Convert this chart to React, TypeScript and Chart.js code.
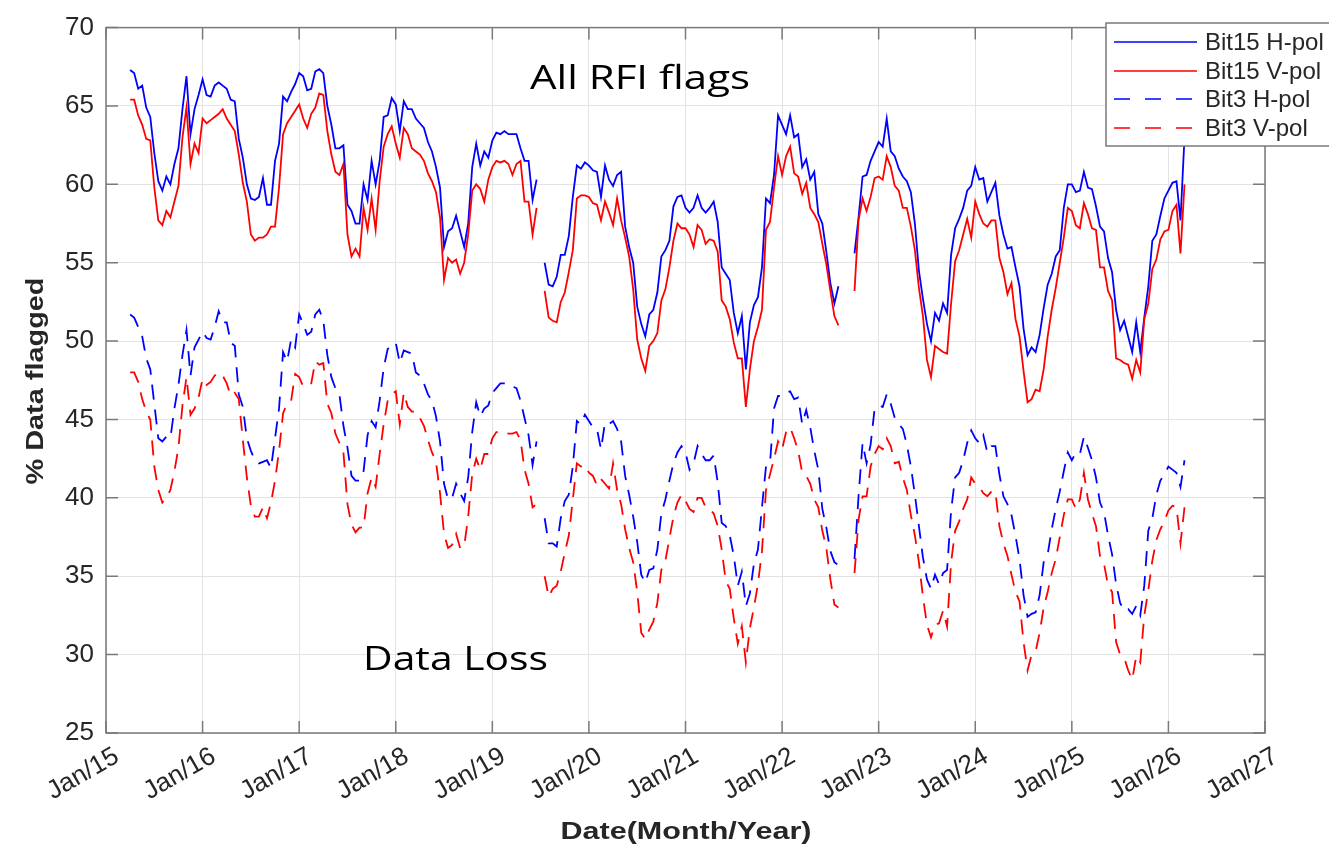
import { useEffect, useRef } from 'react';
import { Chart, registerables } from 'chart.js';

Chart.register(...registerables);

const W = 1329;
const H = 850;

// x axis: decimal years, one sample every half month
const START_YEAR = 2015.25;
const STEP_YEAR = 1 / 24;

const xTickYears = [2015, 2016, 2017, 2018, 2019, 2020, 2021, 2022, 2023, 2024, 2025, 2026, 2027];
const xTickLabels = ['Jan/15', 'Jan/16', 'Jan/17', 'Jan/18', 'Jan/19', 'Jan/20', 'Jan/21', 'Jan/22', 'Jan/23', 'Jan/24', 'Jan/25', 'Jan/26', 'Jan/27'];
const yTicks = [25, 30, 35, 40, 45, 50, 55, 60, 65, 70];

const seriesNames = ['Bit15 H-pol', 'Bit15 V-pol', 'Bit3 H-pol', 'Bit3 V-pol'];

// ---- Bit15 H-pol (solid blue) ----
const bit15H_seg1 = [
  67.3, 67.1, 66.1, 66.3, 64.9, 64.3, 62.0, 60.2, 59.6, 60.5,
  60.0, 61.3, 62.3, 64.8, 66.9, 63.2, 64.8, 65.7, 66.7, 65.7,
  65.6, 66.3, 66.5, 66.3, 66.1, 65.4, 65.3, 62.9, 61.7, 60.0,
  59.1, 59.0, 59.2, 60.4, 58.7, 58.7, 61.5, 62.6, 65.6, 65.3,
  65.9, 66.4, 67.1, 66.9, 66.0, 66.1, 67.2, 67.35, 67.1, 65.0,
  63.8, 62.3, 62.3, 62.5, 58.7, 58.3, 57.5, 57.5, 60.0, 59.0,
  61.5, 60.0, 61.5, 64.3, 64.4, 65.5, 65.1, 63.4, 65.3, 64.8,
  64.8, 64.2, 63.9, 63.6, 62.7, 62.1, 61.1, 59.8, 56.0, 57.0,
  57.2, 58.0, 57.0, 56.0, 57.5, 61.1, 62.6, 61.2, 62.1, 61.7,
  62.8, 63.3, 63.2, 63.4, 63.2, 63.2, 63.2, 62.3, 61.5, 61.5,
  59.0, 60.3,
];
const bit15H_seg2 = [
  55.0, 53.6, 53.5, 54.1, 55.5, 55.5, 56.7, 59.2, 61.2, 61.0,
  61.4, 61.2, 60.9, 60.8, 59.2, 61.2, 60.3, 59.9, 60.6, 60.8,
  57.3, 56.0, 55.0, 52.2, 51.1, 50.3, 51.7, 52.0, 53.1, 55.4,
  55.8, 56.4, 58.6, 59.2, 59.3, 58.5, 58.2, 58.5, 59.3, 58.5,
  58.2, 58.5, 58.9, 57.6, 54.7, 54.3, 53.9, 51.8, 50.5, 51.6,
  48.2, 51.2, 52.3, 52.8, 54.7, 59.1, 58.8, 60.6, 64.4, 63.8,
  63.2, 64.4, 63.0, 63.2, 61.1, 61.6, 60.3, 60.8, 58.1, 57.5,
  55.7, 53.7, 52.4, 53.5,
];
const bit15H_seg3 = [
  55.6, 57.9, 60.5, 60.6, 61.5, 62.1, 62.7, 62.4, 64.2, 62.1,
  61.8, 61.0, 60.5, 60.2, 59.5, 57.5, 54.5, 52.7, 51.1, 50.0,
  51.8, 51.3, 52.4, 51.8, 55.5, 57.2, 57.8, 58.5, 59.6, 59.9,
  61.1, 60.3, 60.4, 58.9, 59.5, 60.1, 58.0, 56.8, 55.9, 56.0,
  54.7, 53.5, 50.8, 49.1, 49.6, 49.3, 50.4, 52.1, 53.6, 54.3,
  55.4, 55.8, 58.5, 60.0, 60.0, 59.5, 59.6, 60.8, 59.8, 59.7,
  58.6, 57.3, 57.0, 55.3, 54.4, 52.0, 50.7, 51.3, 50.3, 49.3,
  51.2, 49.3, 51.5, 53.5, 56.4, 56.8, 58.0, 59.1, 59.6, 60.1,
  60.2, 57.7, 63.0,
];

// ---- Bit15 V-pol (solid red) ----
const bit15V_seg1 = [
  65.4, 65.4, 64.4, 63.8, 62.9, 62.8, 59.8, 57.7, 57.4, 58.3,
  57.9, 58.9, 59.9, 63.0, 64.9, 61.3, 62.6, 62.0, 64.2, 63.9,
  64.1, 64.3, 64.5, 64.8, 64.2, 63.8, 63.4, 61.9, 60.1, 58.9,
  56.8, 56.4, 56.6, 56.6, 56.8, 57.3, 57.3, 59.8, 63.2, 63.9,
  64.3, 64.7, 65.1, 64.2, 63.6, 64.5, 64.9, 65.8, 65.7, 63.4,
  61.9, 60.8, 60.6, 61.3, 56.8, 55.4, 55.9, 55.4, 58.5, 57.1,
  59.1, 57.1, 60.2, 62.4, 63.2, 63.7, 62.6, 61.7, 63.6, 63.2,
  62.3, 62.1, 61.9, 61.5, 60.7, 60.2, 59.5, 57.9, 53.9, 55.3,
  55.0, 55.2, 54.3, 55.0, 56.8, 59.6, 60.0, 59.7, 58.9, 60.3,
  61.1, 61.5, 61.4, 61.5, 61.3, 60.6, 61.3, 61.5, 58.9, 58.9,
  56.8, 58.5,
];
const bit15V_seg2 = [
  53.2, 51.5, 51.3, 51.2, 52.5, 53.1, 54.4, 55.8, 59.1, 59.3,
  59.3, 59.2, 58.8, 58.7, 57.7, 58.9, 58.2, 57.4, 59.1, 57.7,
  56.6, 55.4, 53.3, 50.1, 48.9, 48.1, 49.7, 50.0, 50.5, 52.6,
  53.3, 54.7, 56.4, 57.5, 57.2, 57.2, 56.8, 56.0, 57.4, 57.1,
  56.2, 56.5, 56.4, 55.7, 52.6, 52.2, 51.4, 49.9, 48.9, 48.9,
  45.8, 48.2, 50.0, 50.9, 52.0, 57.1, 57.6, 59.8, 61.8, 60.6,
  61.8, 62.4, 60.7, 60.5, 59.4, 60.1, 58.5, 58.1, 57.6, 56.2,
  54.9, 53.2, 51.6, 51.0,
];
const bit15V_seg3 = [
  53.2, 57.7, 59.1, 58.3, 59.2, 60.4, 60.5, 60.3, 61.8, 61.1,
  59.9, 59.6, 58.5, 58.5, 57.3, 55.8, 53.4, 51.6, 48.8, 47.7,
  49.7, 49.5, 49.3, 49.2, 52.4, 55.1, 55.8, 56.8, 57.8, 56.6,
  58.9, 58.1, 57.5, 57.3, 57.7, 57.7, 55.3, 54.4, 53.0, 53.7,
  51.4, 50.3, 48.1, 46.1, 46.3, 46.9, 46.8, 48.2, 50.3, 52.0,
  53.4, 55.0, 56.6, 58.5, 58.3, 57.4, 57.2, 58.8, 58.1, 57.2,
  57.1, 54.7, 54.7, 53.2, 52.6, 48.9, 48.8, 48.6, 48.5, 47.6,
  48.8, 48.0, 51.4, 52.4, 54.6, 55.2, 56.5, 57.0, 57.1, 58.3,
  58.7, 55.6, 60.0,
];

// ---- Bit3 H-pol (dashed blue) ----
const bit3H_seg1 = [
  51.7, 51.5, 50.9, 50.3, 48.9, 48.2, 46.0, 43.8, 43.6, 43.9,
  43.8, 45.7, 47.2, 49.1, 50.7, 47.8, 49.6, 50.1, 50.6, 50.2,
  50.1, 50.9, 51.9, 51.2, 51.2, 49.9, 49.7, 46.6, 45.8, 43.8,
  43.0, 42.4, 42.2, 42.3, 42.4, 41.9, 43.8, 45.7, 49.3, 48.7,
  50.1, 49.6, 51.7, 51.1, 50.4, 50.6, 51.7, 52.0, 51.3, 49.1,
  47.7, 47.0, 46.6, 44.6, 43.2, 41.4, 41.1, 41.1, 41.7, 44.0,
  44.9, 44.5, 46.2, 48.3, 49.5, 49.7, 49.9, 48.6, 49.4, 49.3,
  49.2, 48.0, 47.8, 47.3, 46.6, 46.2, 45.2, 43.6, 40.9, 39.9,
  40.0, 40.9, 40.3, 39.8, 41.3, 44.2, 46.1, 45.2, 45.7, 45.9,
  46.7, 47.0, 47.3, 47.3, 47.3, 47.1, 47.0, 46.2, 45.1, 44.0,
  42.1, 43.6,
];
const bit3H_seg2 = [
  38.7, 37.1, 37.1, 36.9, 38.7, 39.8, 40.2, 42.0, 44.9, 44.7,
  45.3, 44.9, 44.5, 44.4, 43.1, 44.8, 44.7, 44.9, 44.4, 43.6,
  41.4, 40.2, 38.8, 37.2, 35.1, 34.6, 35.4, 35.5, 36.7, 39.0,
  39.9, 41.1, 42.2, 42.9, 43.3, 42.9, 41.8, 42.2, 43.3, 42.8,
  42.4, 42.4, 42.7, 41.0, 38.4, 38.2, 37.6, 36.3, 34.4, 35.3,
  33.1, 33.9, 35.8, 36.7, 39.4, 42.0, 42.2, 45.7, 46.5, 46.5,
  46.7, 46.8, 46.3, 46.4, 44.7, 45.6, 44.5, 43.0, 41.8, 39.3,
  38.1, 36.6, 35.9, 35.7,
];
const bit3H_seg3 = [
  36.1, 40.1, 43.5, 42.2, 43.4, 45.7, 45.9, 45.8, 46.6, 46.0,
  45.1, 44.7, 44.4, 43.4, 42.0, 40.2, 38.2, 36.2, 34.8, 34.2,
  35.1, 34.5, 35.2, 35.4, 39.2, 41.3, 41.6, 42.4, 43.5, 44.3,
  43.8, 43.5, 44.0, 42.9, 43.3, 43.3, 41.5, 40.1, 39.6, 38.9,
  37.6, 36.1, 33.8, 32.4, 32.6, 32.7, 33.8, 35.9, 36.4, 38.0,
  39.3, 40.4, 41.7, 42.9, 42.4, 42.9, 42.8, 43.9, 43.2, 42.4,
  41.3, 39.7, 39.1, 37.6, 36.4, 34.5, 33.3, 32.8, 32.9, 32.6,
  33.1, 32.5, 34.4, 37.9, 38.7, 40.2, 41.1, 41.5, 42.0, 41.8,
  41.6, 40.7, 42.4,
];

// ---- Bit3 V-pol (dashed red) ----
const bit3V_seg1 = [
  48.0, 48.0, 47.4, 46.3, 45.5, 45.0, 42.0, 40.5, 39.7, 40.0,
  40.5, 41.7, 43.2, 45.9, 47.7, 45.3, 45.7, 46.4, 47.6, 47.2,
  47.4, 47.8, 48.0, 47.8, 47.3, 46.5, 46.7, 46.3, 43.7, 41.3,
  39.5, 38.8, 38.8, 39.4, 38.7, 39.7, 41.1, 43.0, 45.4, 46.0,
  46.2, 47.9, 47.7, 47.1, 47.2, 47.3, 48.7, 48.5, 48.6, 46.0,
  45.4, 44.1, 43.5, 42.9, 39.6, 38.3, 37.8, 38.1, 38.1, 40.3,
  41.3, 40.7, 42.8, 44.7, 46.2, 46.6, 46.8, 44.7, 46.7, 45.8,
  45.5, 45.5, 45.1, 44.6, 43.7, 42.9, 42.3, 40.3, 37.7, 36.8,
  37.0, 37.7, 36.8, 36.9, 38.8, 41.5, 42.5, 41.8, 42.8, 42.8,
  43.8, 44.2, 44.2, 44.2, 44.1, 44.1, 44.2, 43.7, 41.8, 40.9,
  39.4, 39.6,
];
const bit3V_seg2 = [
  35.0, 33.7, 34.2, 34.4, 35.3, 36.5, 37.6, 39.9, 42.2, 42.0,
  42.1, 41.6, 41.4, 40.8, 41.2, 40.9, 40.6, 42.2, 40.5, 39.6,
  38.0, 36.8, 35.9, 34.0, 31.4, 31.0, 31.6, 32.1, 33.3, 35.4,
  36.0, 37.4, 38.8, 39.7, 40.2, 39.8, 39.3, 39.1, 40.0, 40.0,
  39.4, 39.3, 39.0, 38.2, 36.7, 34.7, 34.2, 32.3, 30.7, 31.8,
  29.5, 31.7, 33.0, 34.5, 36.6, 40.5, 41.5, 42.5, 43.6, 43.1,
  44.2, 44.5, 43.8, 43.0, 41.6, 41.4, 40.9, 39.9, 39.4, 37.9,
  36.8, 34.8, 33.2, 33.0,
];
const bit3V_seg3 = [
  35.2, 38.6, 40.1, 40.1, 42.0, 42.8, 43.3, 43.1, 43.8, 43.3,
  42.2, 42.3, 41.3, 40.5, 38.9, 37.6, 35.9, 33.7, 31.9, 31.1,
  31.9, 32.0, 32.8, 31.8, 35.9, 37.9, 38.5, 39.3, 39.9, 41.3,
  40.9, 40.7, 40.3, 40.1, 40.4, 40.4, 38.2, 37.1, 36.3, 35.1,
  34.0, 33.4, 30.8, 29.0, 30.0, 30.2, 31.4, 33.0, 34.0, 35.2,
  36.1, 37.5, 38.9, 39.9, 39.9, 39.3, 39.9, 41.6, 39.9, 39.0,
  38.2, 36.3, 35.8, 34.4, 34.0, 30.8, 30.0, 29.8, 29.0, 28.4,
  29.9, 29.5, 32.5, 34.1, 36.0, 37.3, 38.0, 38.5, 39.2, 39.5,
  39.4, 37.1, 39.4,
];

// data gaps (missing samples) between the three segments
const GAP1 = 1;
const GAP2 = 3;

function joinSegments(a: number[], b: number[], c: number[]): (number | null)[] {
  return [...a, ...Array(GAP1).fill(null), ...b, ...Array(GAP2).fill(null), ...c];
}

const bit15H = joinSegments(bit15H_seg1, bit15H_seg2, bit15H_seg3);
const bit15V = joinSegments(bit15V_seg1, bit15V_seg2, bit15V_seg3);
const bit3H = joinSegments(bit3H_seg1, bit3H_seg2, bit3H_seg3);
const bit3V = joinSegments(bit3V_seg1, bit3V_seg2, bit3V_seg3);

const dates = bit15H.map((_, i) => START_YEAR + i * STEP_YEAR);

const BLUE = '#0000FF';
const RED = '#FF0000';
const TXT = '#262626';
const DASH = [15, 10];

function toPoints(vals: (number | null)[]) {
  return vals.map((v, i) => ({ x: dates[i], y: v }));
}

function drawStretchedText(
  ctx: CanvasRenderingContext2D,
  text: string,
  font: string,
  x: number,
  y: number,
  targetWidth: number,
  align: 'left' | 'center',
  rotate = 0,
  color = '#000'
) {
  ctx.save();
  ctx.font = font;
  const w = ctx.measureText(text).width;
  ctx.translate(x, y);
  if (rotate) ctx.rotate(rotate);
  ctx.scale(targetWidth / w, 1);
  ctx.fillStyle = color;
  ctx.textAlign = align;
  ctx.textBaseline = 'alphabetic';
  ctx.fillText(text, 0, 0);
  ctx.restore();
}

const framePlugin = {
  id: 'frame',
  afterDatasetsDraw(chart: any) {
    const { ctx, chartArea } = chart;
    const { left, right, top, bottom } = chartArea;
    const xs = chart.scales.x;
    const ys = chart.scales.y;
    ctx.save();
    ctx.strokeStyle = '#7a7a7a';
    ctx.lineWidth = 1.5;
    ctx.strokeRect(left, top, right - left, bottom - top);
    ctx.beginPath();
    const TL = 12;
    xTickYears.forEach((v) => {
      const px = xs.getPixelForValue(v);
      ctx.moveTo(px, bottom);
      ctx.lineTo(px, bottom - TL);
      ctx.moveTo(px, top);
      ctx.lineTo(px, top + TL);
    });
    yTicks.forEach((v) => {
      const py = ys.getPixelForValue(v);
      ctx.moveTo(left, py);
      ctx.lineTo(left + TL, py);
      ctx.moveTo(right, py);
      ctx.lineTo(right - TL, py);
    });
    ctx.stroke();
    ctx.restore();
  },
};

const annotationPlugin = {
  id: 'annotations',
  afterDraw(chart: any) {
    const ctx = chart.ctx as CanvasRenderingContext2D;
    // in-plot annotations
    drawStretchedText(ctx, 'All RFI flags', '33px "Open Sans"', 530, 89, 220, 'left');
    drawStretchedText(ctx, 'Data Loss', '33px "Open Sans"', 363, 670, 185, 'left');
    // axis titles
    drawStretchedText(ctx, 'Date(Month/Year)', 'bold 23px "Liberation Sans"', 686, 839, 251, 'center', 0, TXT);
    drawStretchedText(ctx, '% Data flagged', 'bold 23px "Liberation Sans"', 43, 381, 207, 'center', -Math.PI / 2, TXT);

    // legend
    const lx = 1106;
    const ly = 23;
    ctx.save();
    ctx.fillStyle = '#ffffff';
    ctx.fillRect(lx, ly, W - lx + 10, 123);
    ctx.strokeStyle = '#7a7a7a';
    ctx.lineWidth = 1.5;
    ctx.strokeRect(lx, ly, W - lx + 10, 123);
    const rows = [42, 71, 99, 128];
    const colors = [BLUE, RED, BLUE, RED];
    const dashed = [false, false, true, true];
    rows.forEach((ry, i) => {
      ctx.beginPath();
      ctx.strokeStyle = colors[i];
      ctx.lineWidth = 1.5;
      ctx.setLineDash(dashed[i] ? [16, 15] : []);
      ctx.moveTo(1114, ry);
      ctx.lineTo(1197, ry);
      ctx.stroke();
      ctx.setLineDash([]);
      ctx.fillStyle = TXT;
      ctx.font = '24px "Liberation Sans"';
      ctx.textAlign = 'left';
      ctx.textBaseline = 'middle';
      ctx.fillText(seriesNames[i], 1205, ry + 1);
    });
    ctx.restore();
  },
};

export default function App() {
  const ref = useRef<HTMLCanvasElement>(null);

  useEffect(() => {
    document.body.style.margin = '0';
    const canvas = ref.current;
    if (!canvas) return;
    const mk = (label: string, vals: (number | null)[], color: string, dash: number[]) => ({
      label,
      data: toPoints(vals),
      borderColor: color,
      backgroundColor: color,
      borderWidth: 1.8,
      borderDash: dash,
      pointRadius: 0,
      pointHoverRadius: 0,
      tension: 0,
      spanGaps: false,
      fill: false,
    });
    const chart = new Chart(canvas, {
      type: 'line',
      data: {
        datasets: [
          mk(seriesNames[3], bit3V, RED, DASH),
          mk(seriesNames[2], bit3H, BLUE, DASH),
          mk(seriesNames[1], bit15V, RED, []),
          mk(seriesNames[0], bit15H, BLUE, []),
        ],
      },
      options: {
        animation: false,
        responsive: false,
        devicePixelRatio: 1,
        layout: { padding: { top: 18, right: 64, left: 0, bottom: 0 } },
        plugins: {
          legend: { display: false },
          tooltip: { enabled: false },
        },
        scales: {
          x: {
            type: 'linear',
            min: 2015,
            max: 2027,
            afterFit: (s: any) => {
              s.height = 117;
            },
            afterBuildTicks: (s: any) => {
              s.ticks = xTickYears.map((v) => ({ value: v }));
            },
            ticks: {
              autoSkip: false,
              minRotation: 30,
              maxRotation: 30,
              padding: 8,
              labelOffset: 11,
              color: TXT,
              font: { family: 'Liberation Sans', size: 26 },
              callback: (v: any) => xTickLabels[Math.round(Number(v)) - 2015] ?? '',
            },
            grid: { color: '#e3e3e3', lineWidth: 1, drawTicks: false },
            border: { display: false },
          },
          y: {
            type: 'linear',
            min: 25,
            max: 70,
            afterFit: (s: any) => {
              s.width = 106;
            },
            afterBuildTicks: (s: any) => {
              s.ticks = yTicks.map((v) => ({ value: v }));
            },
            ticks: {
              padding: 12,
              color: TXT,
              font: { family: 'Liberation Sans', size: 26 },
              callback: (v: any) => String(v),
            },
            grid: { color: '#e3e3e3', lineWidth: 1, drawTicks: false },
            border: { display: false },
          },
        },
      } as any,
      plugins: [framePlugin, annotationPlugin],
    });
    return () => chart.destroy();
  }, []);

  return (
    <div style={{ width: W, height: H, position: 'relative' }}>
      <canvas ref={ref} width={W} height={H} style={{ display: 'block', width: W, height: H }} />
    </div>
  );
}
